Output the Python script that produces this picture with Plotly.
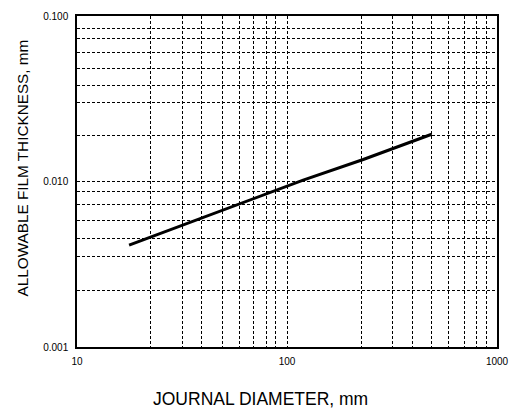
import plotly.graph_objects as go

# Curve
diameter_mm = [17.7, 51.5, 78.3, 119.4, 230.7, 320.5, 488.7]
film_mm = [0.00413, 0.00687, 0.00839, 0.01019, 0.01358, 0.01585, 0.0193]

# Axis labels
x_label_vals = [10, 100, 1000]
x_label_text = ["10", "100", "1000"]
y_label_vals = [0.001, 0.01, 0.1]
y_label_text = ["0.001", "0.010", "0.100"]

# Grid line positions as drawn in the picture
x_grid = [22.4, 31.8, 39.2, 49.3, 59.6, 69.5, 79.9, 88.5,
          227, 318, 398, 490, 588, 703, 801, 896]
y_grid = [0.0022, 0.0035, 0.0045, 0.0058, 0.0073, 0.0087,
          0.019, 0.030, 0.038, 0.048, 0.060, 0.073, 0.084]

xt = x_label_vals + x_grid
xtt = x_label_text + [""] * len(x_grid)
yt = y_label_vals + y_grid
ytt = y_label_text + [""] * len(y_grid)

fig = go.Figure()
fig.add_trace(go.Scatter(x=diameter_mm, y=film_mm, mode="lines",
                         line=dict(color="black", width=3), showlegend=False))

axis_common = dict(
    showgrid=True, gridcolor="black", gridwidth=1, griddash="3px,2px",
    showline=True, linecolor="black", linewidth=1.5, mirror=True,
    zeroline=False, ticks="outside", tickcolor="rgba(0,0,0,0)",
    automargin=False,
    tickfont=dict(family="Liberation Sans, Arial", size=10, color="black"),
)

fig.update_xaxes(type="log", range=[1, 3], tickvals=xt, ticktext=xtt,
                 ticklen=4, **axis_common)
fig.update_yaxes(type="log", range=[-3, -1], tickvals=yt, ticktext=ytt,
                 ticklen=5, **axis_common)

fig.add_annotation(text="JOURNAL DIAMETER, mm", xref="paper", yref="paper",
                   x=0.438, y=-0.158, xanchor="center", yanchor="middle",
                   showarrow=False,
                   font=dict(family="Liberation Sans, Arial", size=17.5, color="black"))
fig.add_annotation(text="ALLOWABLE FILM THICKNESS, mm", xref="paper", yref="paper",
                   x=-0.129, y=0.542, xanchor="center", yanchor="middle",
                   textangle=-90, showarrow=False,
                   font=dict(family="Liberation Sans, Arial", size=15.3, color="black"))

# The page body adds an 8px offset, so the figure is 8px smaller with trimmed left/top margins
fig.update_layout(
    width=509, height=402,
    margin=dict(l=69, r=20, t=8, b=63),
    paper_bgcolor="white", plot_bgcolor="white",
)

fig.write_html("out.html")
